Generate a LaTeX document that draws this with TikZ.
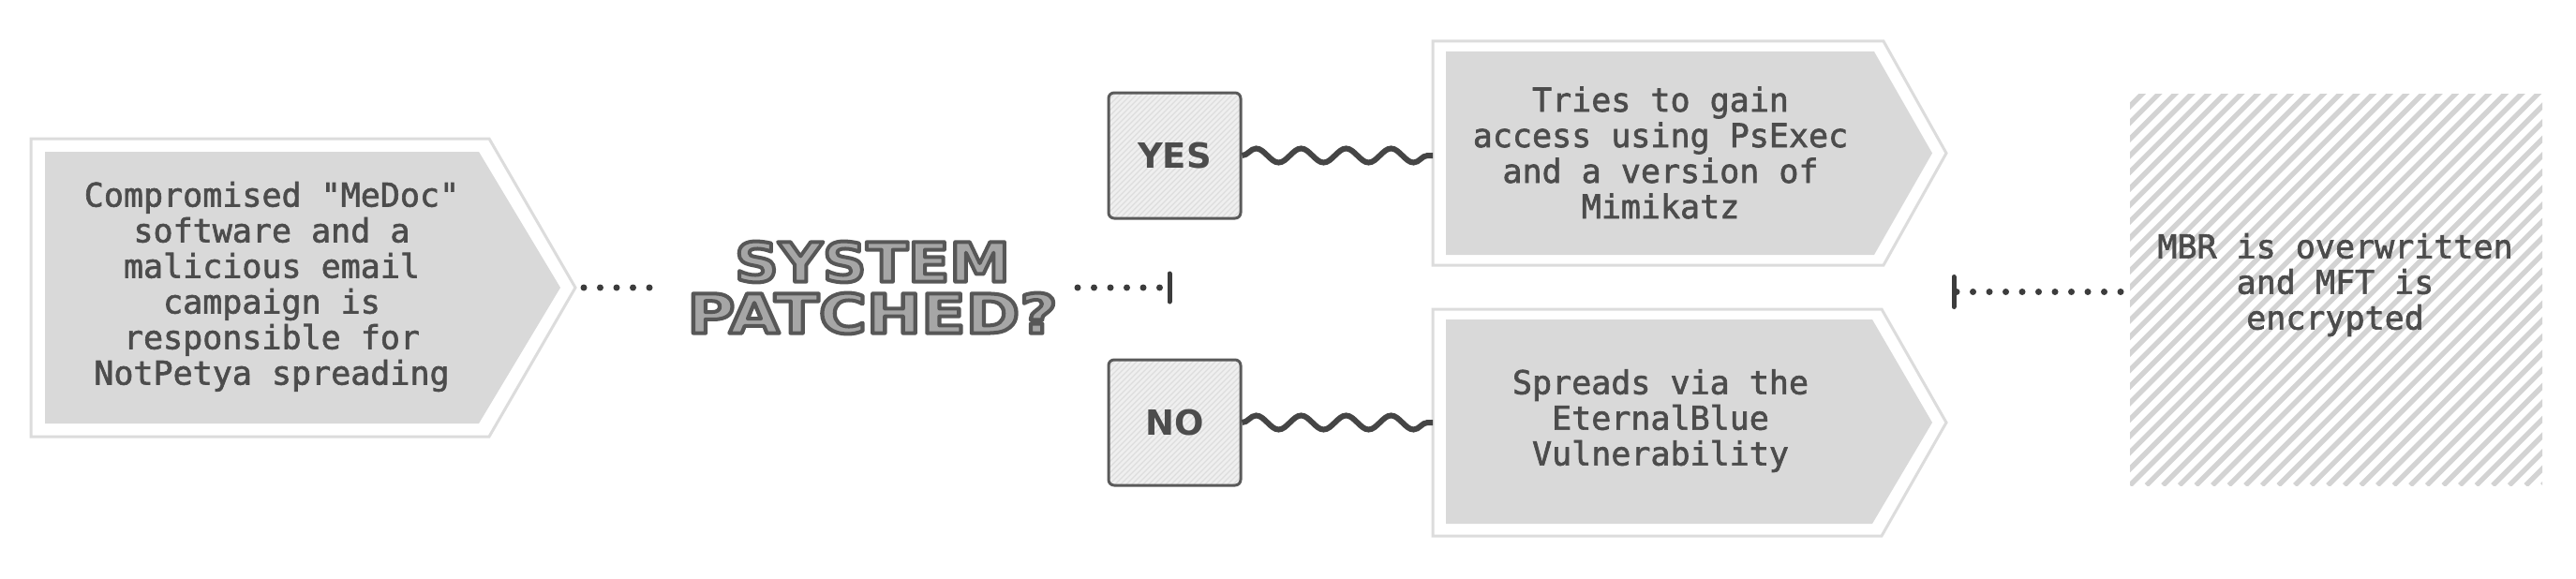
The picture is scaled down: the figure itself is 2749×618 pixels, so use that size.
\documentclass[tikz,border=0pt]{standalone}
\usepackage{fontspec}
\usetikzlibrary{decorations.pathmorphing}
\newfontfamily\monof[FakeBold=1.8]{DejaVu Sans Mono}
\newfontfamily\dvs{DejaVu Sans}
\newfontfamily\qfont[FakeStretch=1.12]{DejaVu Sans}
\definecolor{txt}{HTML}{4C4C4C}
\definecolor{pentfill}{HTML}{D9D9D9}
\definecolor{pentline}{HTML}{DCDCDC}
\definecolor{dotcol}{HTML}{3C3C3C}
\definecolor{wavecol}{HTML}{454545}
\definecolor{boxline}{HTML}{5A5A5A}
\definecolor{boxfill}{HTML}{EFEFEF}
\definecolor{boxstripe}{HTML}{DDDDDD}
\definecolor{hatchcol}{HTML}{D3D3D3}
\definecolor{qfill}{HTML}{A6A6A6}
\newcommand\strokeon{\special{pdf:literal direct 2 Tr 4 w 1 j 0.34 0.34 0.34 RG}}
\newcommand\strokeoff{\special{pdf:literal direct 0 Tr}}
\begin{document}
\begin{tikzpicture}[x=1pt,y=-1pt,
  desc/.style={text=txt, font=\monof\fontsize{35}{38}\selectfont, align=center, inner sep=0pt},
  pentouter/.style={draw=pentline, line width=3pt, fill=white, line join=miter},
  pentinner/.style={fill=pentfill},
  choice/.style={draw=boxline, line width=3pt, rounded corners=6pt, fill=boxfill,
    minimum width=141pt, minimum height=134pt, text=txt,
    font=\dvs\bfseries\fontsize{37}{40}\selectfont,
    path picture={\foreach \k in {-150,-144,...,150}{\draw[boxstripe, line width=1.2pt]
      ([xshift=\k pt]path picture bounding box.south west) -- ++(200,-200);}}},
  mbrbox/.style={minimum width=440pt, minimum height=418pt, inner sep=0pt,
    path picture={\foreach \k in {-440,-422.4,...,450}{\draw[hatchcol, line width=5.4pt]
      ([xshift=\k pt]path picture bounding box.south west) -- ++(460,-460);}}},
  qtext/.style={text=qfill, align=center, inner sep=0pt,
    font=\qfont\bfseries\fontsize{58}{55}\selectfont},
  dotline/.style={draw=dotcol, line width=7pt, line cap=round, dash pattern=on 0pt off 17.5pt},
  barline/.style={draw=dotcol, line width=5pt, line cap=round},
  wave/.style={draw=wavecol, line width=6pt, decorate,
    decoration={snake, segment length=48pt, amplitude=7.5pt}}
]
\path[use as bounding box, fill=white] (0,0) rectangle (2749,618);

% question
\node[qtext] (q) at (931,307) {\strokeon SYSTEM\strokeoff\\\strokeon\scalebox{1.07}[1]{PATCHED?}\strokeoff};

% left pentagon
\draw[pentouter] (33,148) -- (522,148) -- (614,307) -- (522,466) -- (33,466) -- cycle;
\fill[pentinner] (48,162) -- (511,162) -- (598,307) -- (511,452) -- (48,452) -- cycle;
\coordinate (ltip) at (614,307);
\node[desc] (ltext) at (290,306) {Compromised "MeDoc"\\software and a\\malicious email\\campaign is\\responsible for\\NotPetya spreading};

% top-right pentagon
\draw[pentouter] (1529,44) -- (2010,44) -- (2077,163.5) -- (2010,283) -- (1529,283) -- cycle;
\fill[pentinner] (1543,55) -- (2000,55) -- (2062,163.5) -- (2000,272) -- (1543,272) -- cycle;
\coordinate (trL) at (1529,166);
\node[desc] (trtext) at (1772,163) {Tries to gain\\access using PsExec\\and a version of\\Mimikatz};

% bottom-right pentagon
\draw[pentouter] (1529,330) -- (2008,330) -- (2077,451) -- (2008,572) -- (1529,572) -- cycle;
\fill[pentinner] (1543,341) -- (1998,341) -- (2062,451) -- (1998,559) -- (1543,559) -- cycle;
\coordinate (brL) at (1529,451);
\node[desc] (brtext) at (1772,449) {Spreads via the\\EternalBlue\\Vulnerability};

% yes / no
\node[choice] (yes) at (1253.5,166) {YES};
\node[choice] (no) at (1253.5,451) {NO};
\draw[wave] (yes.east) -- (trL);
\draw[wave] (no.east) -- (brL);

% MBR
\node[mbrbox] (mbr) at (2493,309) {};
\node[desc] (mbrtext) at (2492,304) {MBR is overwritten\\and MFT is\\encrypted};

% dotted connectors
\coordinate (d1a) at (623,307);
\coordinate (d1b) at (694,307);
\draw[dotline] (d1a) -- (d1b);
\coordinate (d2a) at (1150,307);
\coordinate (d2b) at (1238,307);
\coordinate (lbar) at (1248,307);
\draw[dotline] (d2a) -- (d2b);
\draw[barline] ([yshift=15pt]lbar) -- ([yshift=-15pt]lbar);
\coordinate (rbar) at (2085,311.5);
\coordinate (d3b) at (2263,311.5);
\coordinate (d3a) at (2087,311.5);
\draw[dotline] (d3b) -- (d3a);
\draw[barline] ([yshift=16pt]rbar) -- ([yshift=-16pt]rbar);
\end{tikzpicture}
\end{document}
